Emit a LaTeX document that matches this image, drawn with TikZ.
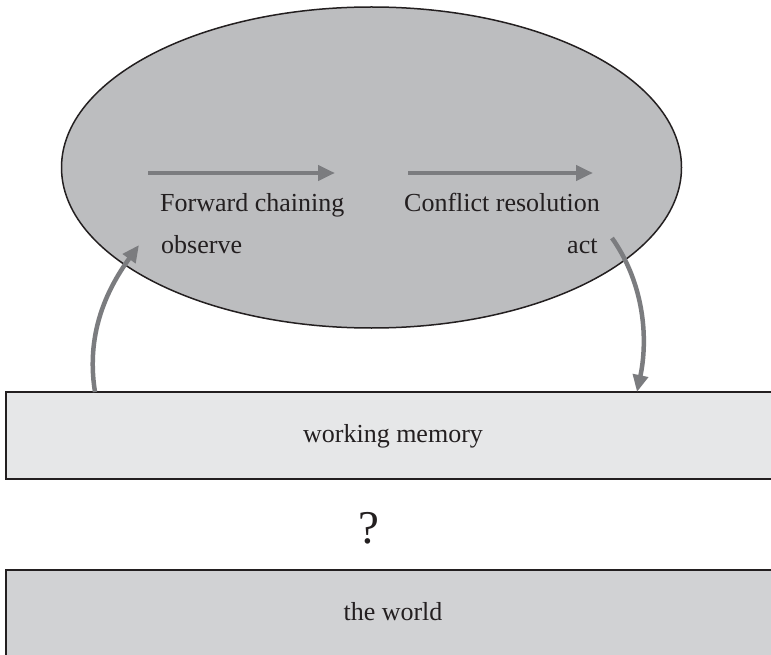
\documentclass[tikz,border=0pt]{standalone}
\usepackage{fontspec}
\setmainfont{Liberation Serif}
\usetikzlibrary{shapes.geometric,arrows.meta}
\definecolor{ink}{HTML}{231F20}
\definecolor{ellfill}{HTML}{BCBDBF}
\definecolor{memfill}{HTML}{E6E7E8}
\definecolor{worldfill}{HTML}{D1D2D4}
\definecolor{arrowgray}{HTML}{7B7C7F}
\tikzset{
  lbl/.style={inner sep=0pt, anchor=base west, text=ink, font=\fontsize{26}{30}\selectfont},
  midlbl/.style={inner sep=0pt, anchor=base, text=ink, font=\fontsize{26}{30}\selectfont},
  band/.style={draw=ink, line width=1.7pt, inner sep=0pt, minimum width=800pt},
  flow/.style={draw=arrowgray, line width=4.5pt,
               -{Triangle[length=17pt,width=15pt]}},
}
\begin{document}
\begin{tikzpicture}[x=1pt,y=-1pt]
  \clip (0,0) rectangle (771,655);
  \fill[white] (0,0) rectangle (771,655);

  % production system cycle
  \node[ellipse, draw=ink, line width=1.5pt, fill=ellfill, inner sep=0pt,
        minimum width=620pt, minimum height=321pt] (cycle) at (371.5,167.5) {};

  \node[lbl] (fwd) at (160,212) {Forward chaining};
  \node[lbl] (conf) at (404,212) {Conflict resolution};
  \node[lbl] (obs) at (161,254) {observe};
  \node[lbl] (act) at (567,254) {act};

  % working memory and the world (running off the right edge)
  \node[band, fill=memfill, minimum height=87pt] (wm) at (406,435.5) {};
  \node[midlbl] (wmlbl) at (393,442) {working memory};
  \node[font=\fontsize{47}{50}\selectfont, text=ink, inner sep=0pt] (q) at (369,528) {?};
  \node[band, fill=worldfill, minimum height=95pt] (world) at (406,617.5) {};
  \node[midlbl] (worldlbl) at (393,620) {the world};

  % arrow ends
  \coordinate (f1) at (148,173);
  \coordinate (f2) at (335,173);
  \coordinate (c1) at (408,173);
  \coordinate (c2) at (593,173);
  \coordinate (up0) at (95,392);
  \coordinate (up1) at (139,245);
  \coordinate (dn0) at (612,238);
  \coordinate (dn1) at (637,392);

  \draw[flow] (f1) -- (f2);
  \draw[flow] (c1) -- (c2);
  \draw[flow] (up0) .. controls (85,330) and (110,285) .. (up1);
  \draw[flow] (dn0) .. controls (645,285) and (648,340) .. (dn1);
\end{tikzpicture}
\end{document}
